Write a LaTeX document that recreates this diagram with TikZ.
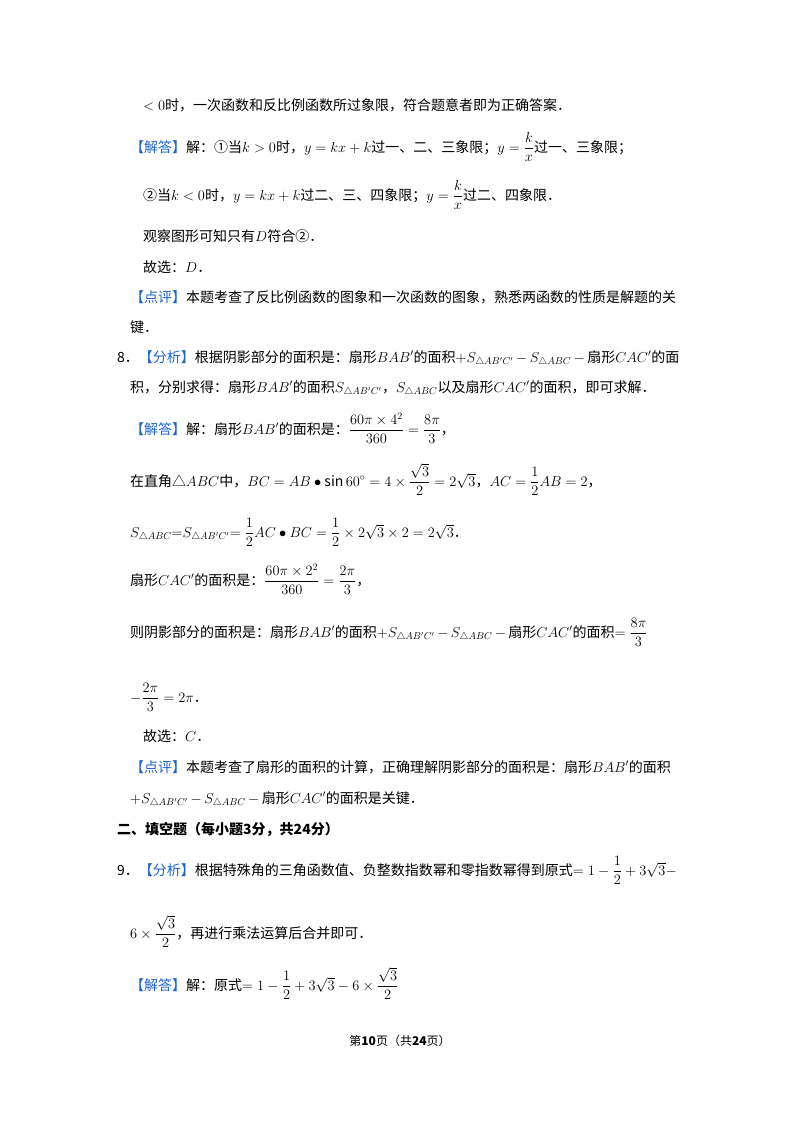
\documentclass[tikz,border=0pt]{standalone}
\usepackage{amsmath}
\usepackage{fontspec}
\setmainfont{Noto Sans CJK SC}
\definecolor{hb}{RGB}{30,100,200}
\newcommand{\hl}[1]{\textcolor{hb}{#1}}
\newcommand{\SA}{$S_{\triangle AB'C'}$}
\newcommand{\SB}{$S_{\triangle ABC}$}
\begin{document}
\begin{tikzpicture}[x=1pt,y=-1pt,
  ln/.style={anchor=base west,inner sep=0pt,font=\fontsize{14}{16}\selectfont}]
\useasboundingbox (0,0) rectangle (800,1132);
\node[ln] (l1) at (143,110) {$<0$时，一次函数和反比例函数所过象限，符合题意者即为正确答案．};
\node[ln] (l2) at (130,152) {\hl{【解答】}解：①当$k>0$时，$y=kx+k$过一、二、三象限；$y=\dfrac{k}{x}$过一、三象限；};
\node[ln] (l3) at (143,200) {②当$k<0$时，$y=kx+k$过二、三、四象限；$y=\dfrac{k}{x}$过二、四象限．};
\node[ln] (l4) at (143,241) {观察图形可知只有$D$符合②．};
\node[ln] (l5) at (143,272) {故选：$D$．};
\node[ln] (l6) at (130,302) {\hl{【点评】}本题考查了反比例函数的图象和一次函数的图象，熟悉两函数的性质是解题的关};
\node[ln] (l7) at (130,332) {键．};
\node[ln] (l8) at (117,362) {8．\hl{【分析】}根据阴影部分的面积是：扇形$BAB'$的面积$+$\SA$\,-\,$\SB$\,-\,$扇形$CAC'$的面};
\node[ln] (l9) at (130,392) {积，分别求得：扇形$BAB'$的面积\SA，\SB 以及扇形$CAC'$的面积，即可求解．};
\node[ln] (l10) at (130,434) {\hl{【解答】}解：扇形$BAB'$的面积是：$\dfrac{60\pi\times4^2}{360}=\dfrac{8\pi}{3}$，};
\node[ln] (l11) at (130,486) {在直角△$ABC$中，$BC=AB\bullet\sin60^\circ=4\times\dfrac{\sqrt3}{2}=2\sqrt3$，$AC=\dfrac12AB=2$，};
\node[ln] (l12) at (130,537) {\SB$=$\SA$=\dfrac12AC\bullet BC=\dfrac12\times2\sqrt3\times2=2\sqrt3$．};
\node[ln] (l13) at (130,585) {扇形$CAC'$的面积是：$\dfrac{60\pi\times2^2}{360}=\dfrac{2\pi}{3}$，};
\node[ln] (l14) at (130,637) {则阴影部分的面积是：扇形$BAB'$的面积$+$\SA$\,-\,$\SB$\,-\,$扇形$CAC'$的面积$=\dfrac{8\pi}{3}$};
\node[ln] (l15) at (130,702) {$-\dfrac{2\pi}{3}=2\pi$．};
\node[ln] (l16) at (143,741) {故选：$C$．};
\node[ln] (l17) at (130,772) {\hl{【点评】}本题考查了扇形的面积的计算，正确理解阴影部分的面积是：扇形$BAB'$的面积};
\node[ln] (l18) at (130,803) {$+$\SA$\,-\,$\SB$\,-\,$扇形$CAC'$的面积是关键．};
\node[ln,font=\fontsize{14}{16}\selectfont\bfseries] (l19) at (117,834) {二、填空题（每小题3分，共24分）};
\node[ln] (l20) at (117,875) {9．\hl{【分析】}根据特殊角的三角函数值、负整数指数幂和零指数幂得到原式$=1-\dfrac12+3\sqrt3-$};
\node[ln] (l21) at (130,938) {$6\times\dfrac{\sqrt3}{2}$，再进行乘法运算后合并即可．};
\node[ln] (l22) at (130,990) {\hl{【解答】}解：原式$=1-\dfrac12+3\sqrt3-6\times\dfrac{\sqrt3}{2}$};
\node[anchor=base,inner sep=0pt,font=\fontsize{12}{14}\selectfont] (ft) at (400,1045) {第\textbf{10}页（共\textbf{24}页）};
\end{tikzpicture}
\end{document}
